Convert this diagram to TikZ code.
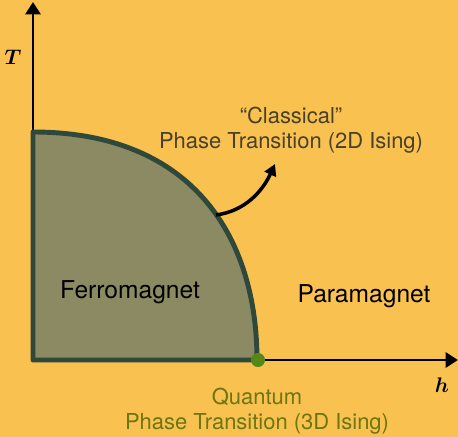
\documentclass[tikz,border=0pt]{standalone}
\usepackage{fontspec}
\setmainfont{TeX Gyre Heros}
\usepackage{amsmath}
\usetikzlibrary{arrows.meta,positioning}
\definecolor{bgyellow}{RGB}{249,194,80}
\definecolor{ferrofill}{RGB}{139,138,98}
\definecolor{ferroline}{RGB}{47,72,60}
\definecolor{qcpgreen}{RGB}{88,135,25}
\definecolor{classtext}{RGB}{72,64,42}
\definecolor{quanttext}{RGB}{108,118,18}

\begin{document}
\begin{tikzpicture}[x=0.02cm,y=-0.02cm,
    axis/.style={line width=1.7pt,-{Triangle[length=7pt,width=8.5pt]}},
    region/.style={fill=ferrofill,draw=ferroline,line width=2.8pt,line join=round},
    phase/.style={font=\fontsize{14}{16}\selectfont,text=black},
    trans/.style={align=center,font=\fontsize{12.5}{14}\selectfont},
    qdot/.style={circle,fill=qcpgreen,minimum size=8pt,inner sep=0pt},
    varlabel/.style={font=\fontsize{13}{15}\selectfont},
    curvearrow/.style={line width=2pt,-{Triangle[length=6.5pt,width=7pt]}}]
  \fill[bgyellow] (0,0) rectangle (458,437);
  \useasboundingbox (0,0) rectangle (458,437);
  % axes
  \coordinate (o) at (33,361);
  \coordinate (tend) at (33,2);
  \coordinate (hend) at (458,360);
  \draw[axis] (o) -- (tend);
  \draw[axis] (33,360) -- (hend);
  \node[varlabel] (tlab) at (13,57) {$\boldsymbol{T}$};
  \node[varlabel] (hlab) at (442,385) {$\boldsymbol{h}$};
  % ordered phase
  \filldraw[region] (33,360) -- (33,132)
       .. controls (195,132) and (257,240) .. (257,360) -- cycle;
  \node[qdot] (qcp) at (258,360) {};
  \node[phase] (ferro) at (130,292) {Ferromagnet};
  \node[phase] (para) at (364,296) {Paramagnet};
  % transitions
  \node[trans,text=classtext] (classical) at (291,130)
       {“Classical”\\Phase Transition (2D Ising)};
  \node[trans,text=quanttext] (quantum) at (257,411)
       {Quantum\\Phase Transition (3D Ising)};
  \coordinate (edge) at (216,215);
  \coordinate (tip) at (275,164);
  \draw[curvearrow] (edge) .. controls (246,211) and (263,190) .. (tip);
\end{tikzpicture}
\end{document}
